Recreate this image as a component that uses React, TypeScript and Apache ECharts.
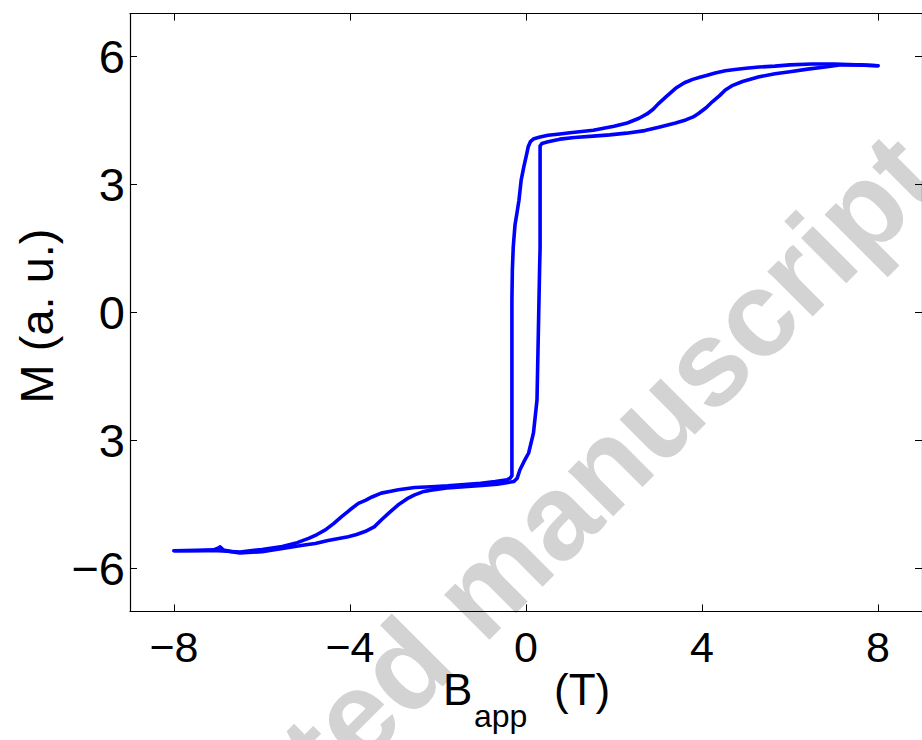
import React, { useEffect, useRef } from "react";
import * as echarts from "echarts";

// Ascending branch (field swept from -8 T to +8 T)
const ascB = [-8.0, -7.5, -7.1, -7.0, -6.95, -6.88, -6.7, -6.5, -6.0, -5.5, -5.0, -4.79, -4.5, -4.04, -3.85, -3.66, -3.45, -3.29, -3.1, -2.91, -2.7, -2.53, -2.35, -2.16, -1.8, -1.4, -1.0, -0.65, -0.28, -0.2, -0.14, -0.05, 0.06, 0.17, 0.25, 0.28, 0.31, 0.32, 0.32, 0.36, 0.5, 0.77, 1.1, 1.53, 1.9, 2.28, 2.7, 3.02, 3.4, 3.63, 3.8, 3.92, 4.1, 4.24, 4.4, 4.53, 4.7, 4.92, 5.3, 5.66, 6.0, 6.4, 6.8, 7.17, 7.6, 8.0];
const ascM = [-5.58, -5.57, -5.56, -5.52, -5.49, -5.56, -5.6, -5.63, -5.6, -5.52, -5.44, -5.41, -5.34, -5.25, -5.2, -5.13, -5.02, -4.86, -4.68, -4.51, -4.36, -4.27, -4.2, -4.16, -4.11, -4.08, -4.05, -4.02, -3.96, -3.88, -3.69, -3.5, -3.29, -2.82, -2.05, -0.5, 1.07, 1.5, 3.9, 3.96, 4.0, 4.06, 4.1, 4.13, 4.16, 4.2, 4.26, 4.34, 4.44, 4.51, 4.58, 4.66, 4.8, 4.94, 5.08, 5.21, 5.32, 5.41, 5.52, 5.59, 5.64, 5.7, 5.75, 5.8, 5.8, 5.78];

// Descending branch (field swept from +8 T to -8 T)
const descB = [8.0, 7.5, 7.0, 6.5, 6.0, 5.66, 5.3, 5.0, 4.75, 4.53, 4.3, 4.1, 3.95, 3.79, 3.6, 3.4, 3.18, 3.0, 2.89, 2.75, 2.57, 2.4, 2.28, 2.0, 1.53, 1.0, 0.77, 0.5, 0.32, 0.18, 0.1, 0.05, 0.02, -0.05, -0.11, -0.16, -0.21, -0.25, -0.29, -0.31, -0.32, -0.32, -0.36, -0.43, -0.7, -1.03, -1.4, -1.78, -2.15, -2.53, -2.9, -3.1, -3.29, -3.5, -3.65, -3.81, -4.0, -4.19, -4.38, -4.56, -4.75, -4.94, -5.2, -5.54, -6.0, -6.5, -7.0, -7.5, -8.0];
const descM = [5.78, 5.8, 5.82, 5.82, 5.8, 5.77, 5.75, 5.72, 5.69, 5.66, 5.61, 5.55, 5.51, 5.46, 5.38, 5.25, 5.05, 4.88, 4.76, 4.65, 4.55, 4.48, 4.43, 4.36, 4.27, 4.21, 4.18, 4.15, 4.11, 4.07, 4.0, 3.88, 3.73, 3.41, 3.1, 2.63, 2.3, 2.05, 1.53, 1.0, 0.29, -3.82, -3.88, -3.92, -3.96, -4.0, -4.03, -4.06, -4.08, -4.1, -4.15, -4.19, -4.23, -4.32, -4.4, -4.47, -4.62, -4.78, -4.95, -5.09, -5.2, -5.29, -5.39, -5.48, -5.55, -5.61, -5.58, -5.58, -5.58];

const xTickValues = [-8, -4, 0, 4, 8];
const xTickLabels = ["\u22128", "\u22124", "0", "4", "8"];
const yTickValues = [-6, -3, 0, 3, 6];
const yTickLabels = ["\u22126", "3", "0", "3", "6"];

const xTitleMain = "B";
const xTitleSub = "app";
const xTitleUnit = "(T)";
const yTitle = "M (a. u.)";
const watermark = "Accepted manuscript";

const FONT = '"Liberation Sans", Arial, Helvetica, sans-serif';

export default function App() {
  const ref = useRef<HTMLDivElement>(null);
  useEffect(() => {
    if (!ref.current) return;
    const chart = echarts.init(ref.current, undefined, { renderer: "svg" });
    const zip = (a: number[], b: number[]) => a.map((v, i) => [v, b[i]]);
    const xLabel = (v: number) => {
      const i = xTickValues.indexOf(v);
      return i >= 0 ? xTickLabels[i] : "";
    };
    const yLabel = (v: number) => {
      const i = yTickValues.indexOf(v);
      return i >= 0 ? yTickLabels[i] : "";
    };
    const axisLine = { show: true, onZero: false, lineStyle: { color: "#000", width: 1.2 } };
    const tick = (vals: number[]) => ({
      show: true,
      inside: true,
      length: 7,
      customValues: vals,
      lineStyle: { color: "#000", width: 1 },
    });
    chart.setOption({
      animation: false,
      backgroundColor: "#fff",
      grid: { left: 130, top: 13.6, width: 798, height: 597.8, containLabel: false },
      xAxis: [
        {
          type: "value",
          min: -9,
          max: 9,
          position: "bottom",
          axisLine,
          axisTick: tick(xTickValues),
          splitLine: { show: false },
          axisLabel: {
            customValues: xTickValues,
            formatter: xLabel,
            fontFamily: FONT,
            fontSize: 43,
            color: "#000",
            margin: 14,
          },
        },
        {
          type: "value",
          min: -9,
          max: 9,
          position: "top",
          axisLine,
          axisTick: tick(xTickValues),
          splitLine: { show: false },
          axisLabel: { show: false },
        },
      ],
      yAxis: [
        {
          type: "value",
          min: -7,
          max: 7,
          position: "left",
          axisLine,
          axisTick: tick(yTickValues),
          splitLine: { show: false },
          axisLabel: {
            customValues: yTickValues,
            formatter: yLabel,
            fontFamily: FONT,
            fontSize: 47,
            color: "#000",
            margin: 5,
          },
        },
        {
          type: "value",
          min: -7,
          max: 7,
          position: "right",
          axisLine,
          axisTick: tick(yTickValues),
          splitLine: { show: false },
          axisLabel: { show: false },
        },
      ],
      graphic: [
        {
          type: "text",
          x: 480,
          y: 590,
          rotation: Math.PI / 4,
          z: 0,
          silent: true,
          style: {
            text: watermark,
            font: `bold 121px ${FONT}`,
            fill: "#d3d3d3",
            align: "center",
            verticalAlign: "middle",
          },
        },
        {
          type: "text",
          x: 443,
          y: 689,
          style: { text: xTitleMain, font: `44px ${FONT}`, fill: "#000", align: "left", verticalAlign: "middle" },
        },
        {
          type: "text",
          x: 474,
          y: 716,
          style: { text: xTitleSub, font: `32px ${FONT}`, fill: "#000", align: "left", verticalAlign: "middle" },
        },
        {
          type: "text",
          x: 554,
          y: 689,
          style: { text: xTitleUnit, font: `44px ${FONT}`, fill: "#000", align: "left", verticalAlign: "middle" },
        },
        {
          type: "text",
          x: 36,
          y: 316,
          rotation: Math.PI / 2,
          style: { text: yTitle, font: `47px ${FONT}`, fill: "#000", align: "center", verticalAlign: "middle" },
        },
      ],
      series: [
        {
          type: "line",
          name: "ascending",
          data: zip(ascB, ascM),
          showSymbol: false,
          symbol: "none",
          smooth: false,
          z: 3,
          lineStyle: { color: "#0000ff", width: 3.6, join: "round", cap: "round" },
        },
        {
          type: "line",
          name: "descending",
          data: zip(descB, descM),
          showSymbol: false,
          symbol: "none",
          smooth: false,
          z: 3,
          lineStyle: { color: "#0000ff", width: 3.6, join: "round", cap: "round" },
        },
      ],
    });
    return () => chart.dispose();
  }, []);
  return (
    <div
      ref={ref}
      style={{ position: "absolute", left: 0, top: 0, width: 922, height: 740, overflow: "hidden" }}
    />
  );
}
